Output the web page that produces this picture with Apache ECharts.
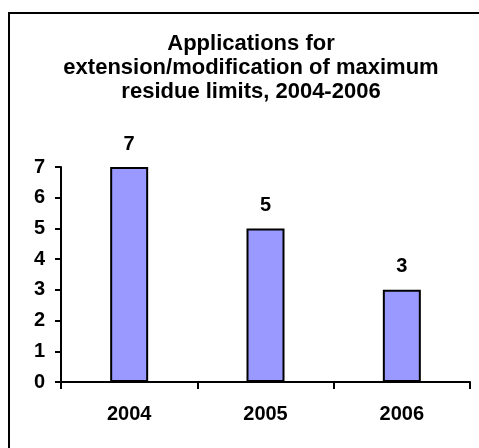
<!DOCTYPE html>
<html>
<head>
<meta charset="utf-8">
<script src="https://cdn.jsdelivr.net/npm/echarts@6/dist/echarts.min.js"></script>
<style>
html,body{margin:0;padding:0;background:#fff;}
#main{width:479px;height:448px;}
</style>
</head>
<body>
<div id="main"></div>
<script>
const categories = ['2004', '2005', '2006'];
const applications = [7, 5, 3];
const yTicks = [0, 1, 2, 3, 4, 5, 6, 7];
const titleText = 'Applications for\nextension/modification of maximum\nresidue limits, 2004-2006';

const FONT = '"Liberation Sans", Arial, sans-serif';
const chart = echarts.init(document.getElementById('main'));
chart.setOption({
  backgroundColor: '#ffffff',
  animation: false,
  title: {
    text: titleText,
    left: 246,
    top: 27,
    textAlign: 'center',
    textStyle: {
      fontFamily: FONT, fontWeight: 'bold', fontSize: 22,
      lineHeight: 24, color: '#000'
    }
  },
  graphic: [{
    type: 'rect',
    shape: { x: 9, y: 13, width: 480, height: 440 },
    style: { fill: 'none', stroke: '#000', lineWidth: 2 },
    silent: true
  }],
  grid: { left: 61, right: 9, top: 167, bottom: 66, containLabel: false },
  xAxis: {
    type: 'category',
    data: categories,
    axisLine: { lineStyle: { color: '#000', width: 2 } },
    axisTick: { show: true, length: 7, alignWithLabel: false, lineStyle: { color: '#000', width: 2 } },
    axisLabel: { margin: 22, fontFamily: FONT, fontWeight: 'bold', fontSize: 20, color: '#000' }
  },
  yAxis: {
    type: 'value',
    min: yTicks[0],
    max: yTicks[yTicks.length - 1],
    interval: 1,
    splitLine: { show: false },
    axisLine: { show: true, lineStyle: { color: '#000', width: 2 } },
    axisTick: { show: true, length: 6, lineStyle: { color: '#000', width: 2 } },
    axisLabel: { margin: 16, fontFamily: FONT, fontWeight: 'bold', fontSize: 20, color: '#000' }
  },
  series: [{
    type: 'bar',
    data: applications,
    barWidth: 38,
    itemStyle: { color: '#9999FF', borderColor: '#000', borderWidth: 2 },
    label: {
      show: true, position: 'top', distance: 13,
      fontFamily: FONT, fontWeight: 'bold', fontSize: 20, color: '#000'
    }
  }]
});
</script>
</body>
</html>
